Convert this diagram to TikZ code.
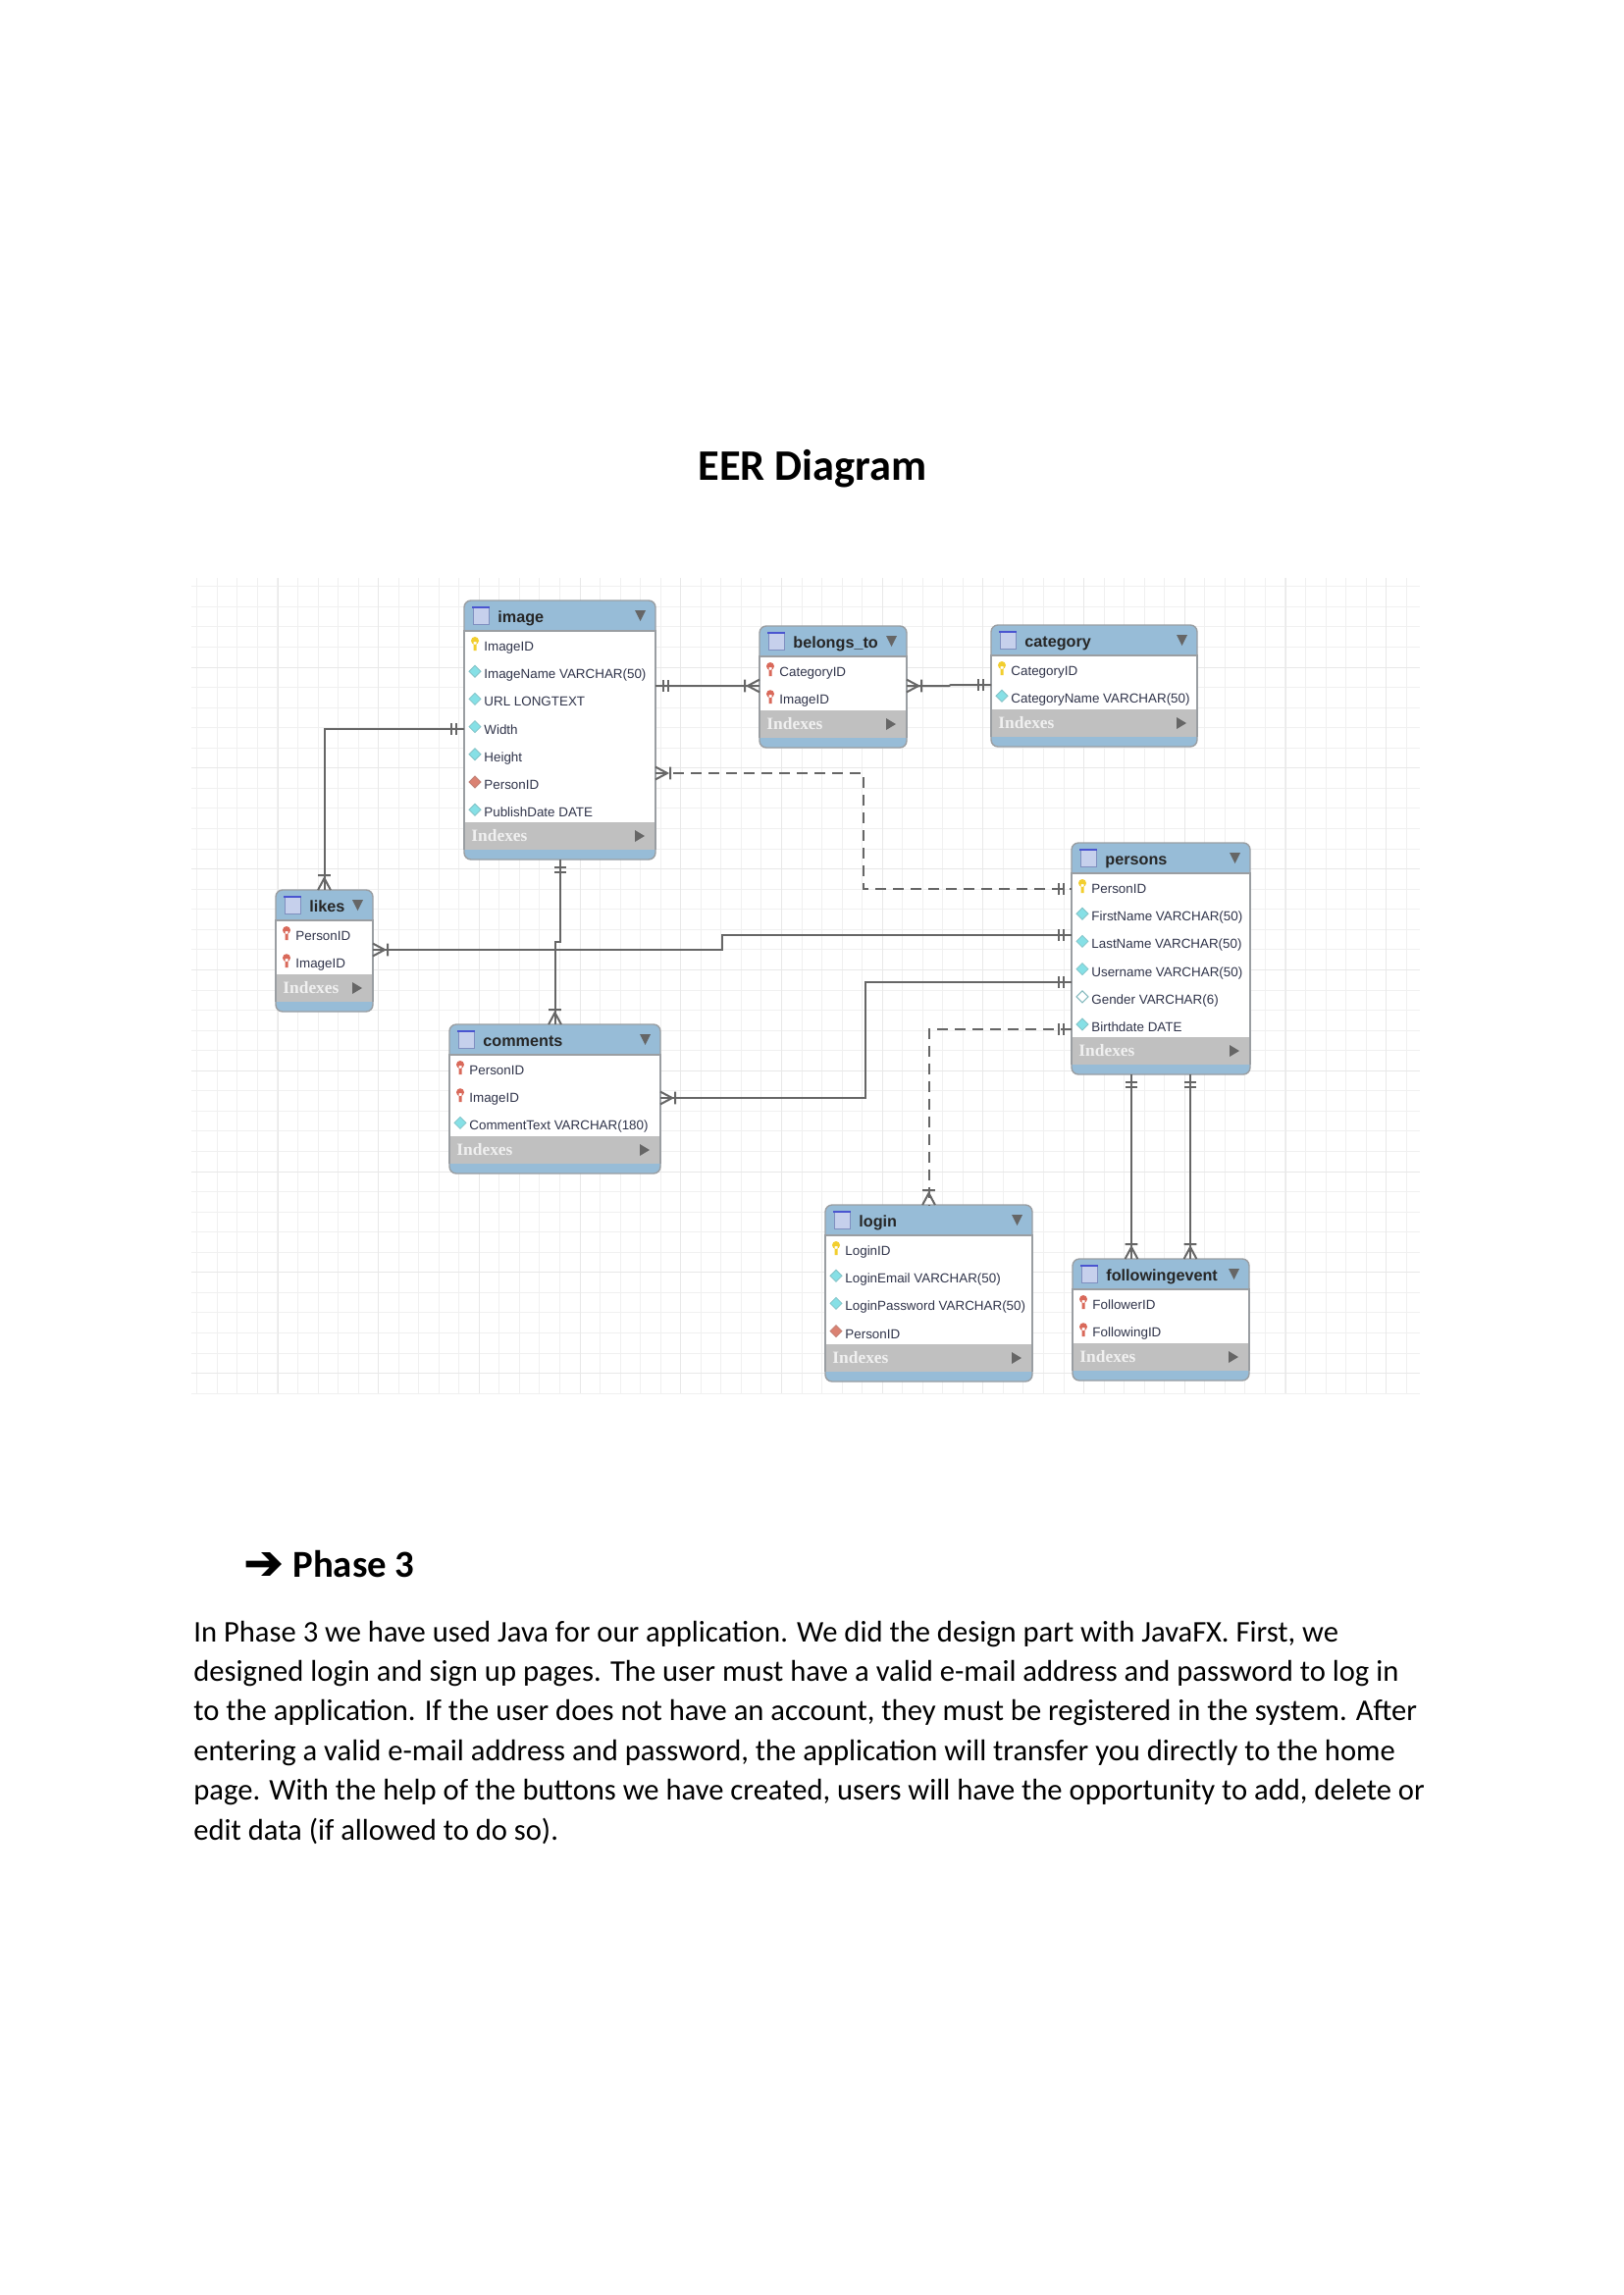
\documentclass[tikz,border=0pt]{standalone}
\usepackage{fontspec}
\setmainfont{Carlito}
\newfontfamily\tablefont{Liberation Sans}
\newfontfamily\indexfont{Liberation Serif}
\newfontfamily\symbolfont[FakeBold=2]{DejaVu Sans}
\usepackage{tikz}
\usetikzlibrary{positioning,arrows.meta}

\definecolor{headblue}{HTML}{97BCD7}
\definecolor{indexgray}{HTML}{C0C0C0}
\definecolor{edgegray}{HTML}{9A9EA2}
\definecolor{linegray}{HTML}{666666}
\definecolor{gridminor}{HTML}{F0F0F0}
\definecolor{gridmajor}{HTML}{E8E8E8}
\definecolor{rowink}{HTML}{30344A}
\definecolor{keyyellow}{HTML}{F2CE2E}
\definecolor{keyred}{HTML}{D9695A}
\definecolor{colcyan}{HTML}{86E0E6}
\definecolor{colred}{HTML}{DB8272}
\definecolor{iconfill}{HTML}{C6D0EC}
\definecolor{iconedge}{HTML}{7F8FC0}
\definecolor{iconbar}{HTML}{4A55D0}

\pgfdeclarearrow{
  name=onebars,
  setup code={\pgfarrowssettipend{0pt}\pgfarrowssetlineend{0pt}\pgfarrowssetbackend{-7pt}\pgfarrowssetvisualbackend{-7pt}},
  drawing code={
    \pgfsetdash{}{0pt}\pgfsetlinewidth{1pt}
    \pgfpathmoveto{\pgfpoint{-4pt}{-3pt}}\pgfpathlineto{\pgfpoint{-4pt}{3pt}}
    \pgfpathmoveto{\pgfpoint{-6.7pt}{-3pt}}\pgfpathlineto{\pgfpoint{-6.7pt}{3pt}}
    \pgfusepathqstroke}
}
\pgfdeclarearrow{
  name=crowone,
  setup code={\pgfarrowssettipend{0pt}\pgfarrowssetlineend{0pt}\pgfarrowssetbackend{-8pt}\pgfarrowssetvisualbackend{-8pt}},
  drawing code={
    \pgfsetdash{}{0pt}\pgfsetlinewidth{1pt}
    \pgfpathmoveto{\pgfpoint{0pt}{-3.2pt}}\pgfpathlineto{\pgfpoint{-6pt}{0pt}}\pgfpathlineto{\pgfpoint{0pt}{3.2pt}}
    \pgfpathmoveto{\pgfpoint{-7.5pt}{-3.2pt}}\pgfpathlineto{\pgfpoint{-7.5pt}{3.2pt}}
    \pgfusepathqstroke}
}

\newcommand{\iconpk}{\fill[keyyellow] (0,-5) circle [radius=4] (-1.5,-4) rectangle (1.5,5);}
\newcommand{\iconfk}{\fill[keyred] (0,-5) circle [radius=4] (-1.5,-4) rectangle (1.5,5);}
\newcommand{\iconcol}{\draw[fill=colcyan,draw=colcyan!70!gray,line width=.4pt] (0,-8)--(6,-2)--(0,4)--(-6,-2)--cycle;}
\newcommand{\iconfcol}{\draw[fill=colred,draw=colred!70!gray,line width=.4pt] (0,-8)--(6,-2)--(0,4)--(-6,-2)--cycle;}
\newcommand{\iconnull}{\draw[fill=white,draw=colcyan!60!gray,line width=.5pt] (0,-8)--(6,-2)--(0,4)--(-6,-2)--cycle;}

% name, title, left, top, right, number of rows, rows
\newcommand{\eertable}[7]{
  \pgfmathsetmacro\tabhead{#4+31}
  \pgfmathsetmacro\tabidx{\tabhead+28*#6-1}
  \pgfmathsetmacro\tabw{(#5-#3)/2}
  \pgfmathsetmacro\tabh{(\tabidx+38-#4)/2}
  \node[tablebox, minimum width=\tabw pt, minimum height=\tabh pt] (#1) at (#3,#4) {};
  \fill[white] (#3,\tabhead) rectangle (#5,\tabidx);
  \fill[indexgray] (#3,\tabidx) rectangle (#5,\tabidx+28);
  \draw[edgegray, line width=.7pt] (#3,\tabidx+28) -- (#3,\tabhead) -- (#5,\tabhead) -- (#5,\tabidx+28);
  \draw[draw=iconedge, fill=iconfill, line width=.5pt] (#3+9,#4+7) rectangle (#3+25,#4+24);
  \fill[iconbar] (#3+8,#4+6) rectangle (#3+26,#4+8);
  \node[tabletitle] (#1-title) at (#3+34,#4+22) {#2};
  \fill[linegray] (#5-21,#4+10) -- (#5-10,#4+10) -- (#5-15.5,#4+21) -- cycle;
  \foreach \kind/\rowtxt [count=\i] in {#7} {
    \pgfmathsetmacro\rowy{\tabhead+15+28.2*(\i-1)}
    \begin{scope}[shift={(#3+11,\rowy)}] \csname icon\kind\endcsname \end{scope}
    \node[rowtext] (#1-r\i) at (#3+20,\rowy+5.5) {\rowtxt};
  }
  \node[indextext] (#1-idx) at (#3+7,\tabidx+19) {Indexes};
  \fill[linegray] (#5-21,\tabidx+8) -- (#5-11,\tabidx+14) -- (#5-21,\tabidx+20) -- cycle;
}

\begin{document}
\begin{tikzpicture}[x=0.5pt, y=-0.5pt,
    tablebox/.style={draw=edgegray, fill=headblue, line width=.7pt, rounded corners=3.5pt, anchor=north west, inner sep=0pt, outer sep=0pt},
    tabletitle/.style={anchor=base west, inner sep=0pt, font=\tablefont\bfseries\fontsize{8.1}{10}\selectfont, text=black!85},
    rowtext/.style={anchor=base west, inner sep=0pt, font=\tablefont\fontsize{6.7}{8}\selectfont, text=rowink},
    indextext/.style={anchor=base west, inner sep=0pt, font=\indexfont\bfseries\fontsize{8.7}{10}\selectfont, text=white!88!gray},
    relation/.style={draw=linegray, line width=1pt},
    relationdash/.style={relation, dash pattern=on 5.5pt off 3.5pt},
    headingtext/.style={anchor=base west, inner sep=0pt, font=\bfseries\fontsize{22.2}{26}\selectfont},
    phasetext/.style={anchor=base west, inner sep=0pt, font=\bfseries\fontsize{19.4}{24}\selectfont},
    bodytext/.style={anchor=north west, inner sep=0pt, align=left, font=\fontsize{15.3}{20.2}\selectfont}]

    \useasboundingbox (0,0) rectangle (1654,2339);

    \node[headingtext] (heading) at (711,489) {EER Diagram};

    \foreach \k in {0,...,60} {
        \draw[gridminor, line width=.5pt] (200.8+20.54*\k,589) -- (200.8+20.54*\k,1420);
    }
    \foreach \k in {0,...,40} {
        \draw[gridminor, line width=.5pt] (195,597.8+20.56*\k) -- (1447,597.8+20.56*\k);
    }
    \foreach \k in {0,...,11} {
        \draw[gridmajor, line width=.5pt] (283+102.7*\k,589) -- (283+102.7*\k,1420);
    }
    \foreach \k in {0,...,7} {
        \draw[gridmajor, line width=.5pt] (195,680+102.8*\k) -- (1447,680+102.8*\k);
    }

    \eertable{image}{image}{473}{612}{668}{7}{pk/ImageID, col/ImageName VARCHAR(50), col/URL LONGTEXT, col/Width, col/Height, fcol/PersonID, col/PublishDate DATE}
    \eertable{belongsto}{belongs\_to}{774}{638}{924}{2}{fk/CategoryID, fk/ImageID}
    \eertable{category}{category}{1010}{637}{1220}{2}{pk/CategoryID, col/CategoryName VARCHAR(50)}
    \eertable{persons}{persons}{1092}{859}{1274}{6}{pk/PersonID, col/FirstName VARCHAR(50), col/LastName VARCHAR(50), col/Username VARCHAR(50), null/Gender VARCHAR(6), col/Birthdate DATE}
    \eertable{likes}{likes}{281}{907}{380}{2}{fk/PersonID, fk/ImageID}
    \eertable{comments}{comments}{458}{1044}{673}{3}{fk/PersonID, fk/ImageID, col/CommentText VARCHAR(180)}
    \eertable{login}{login}{841}{1228}{1052}{4}{pk/LoginID, col/LoginEmail VARCHAR(50), col/LoginPassword VARCHAR(50), fcol/PersonID}
    \eertable{following}{followingevent}{1093}{1283}{1273}{2}{fk/FollowerID, fk/FollowingID}

    \draw[relation, {onebars}-{crowone}] (image.east |- 0,699) -- (belongsto.west |- 0,699);
    \draw[relation, {onebars}-{crowone}] (1153,0 |- persons.south) -- (1153,0 |- following.north);
    \draw[relation, {onebars}-{crowone}] (1213,0 |- persons.south) -- (1213,0 |- following.north);
    \draw[relation, {onebars}-{crowone}] (image.west |- 0,743) -| (likes.north);
    \draw[relation, {onebars}-{crowone}] (image.south) -- (image.south |- 0,960) -- (comments.north |- 0,960) -- (comments.north);
    \draw[relation, {crowone}-{onebars}] (belongsto.east |- 0,699) -- (967,699) -- (969,698) -- (category.west |- 0,698);
    \draw[relation, {crowone}-{onebars}] (likes.east |- 0,968) -- (736,968) -- (736,953) -- (persons.west |- 0,953);
    \draw[relation, {crowone}-{onebars}] (comments.east |- 0,1119) -- (882,1119) -- (882,1001) -- (persons.west |- 0,1001);
    \draw[relationdash, {crowone}-{onebars}] (image.east |- 0,788) -- (880,788) -- (880,906) -- (persons.west |- 0,906);
    \draw[relationdash, {onebars}-{crowone}] (persons.west |- 0,1049) -| (login.north);

    \node[phasetext, font=\symbolfont\fontsize{24}{28}\selectfont] (phasemark) at (248,1609) {➔};
    \node[phasetext] (phase) at (298,1607) {Phase 3};
    \node[bodytext] (body) at (197,1651.5) {In Phase 3 we have used Java for our application. We did the design part with JavaFX. First, we\\
        designed login and sign up pages. The user must have a valid e-mail address and password to log in\\
        to the application. If the user does not have an account, they must be registered in the system. After\\
        entering a valid e-mail address and password, the application will transfer you directly to the home\\
        page. With the help of the buttons we have created, users will have the opportunity to add, delete or\\
        edit data (if allowed to do so).};

\end{tikzpicture}
\end{document}
